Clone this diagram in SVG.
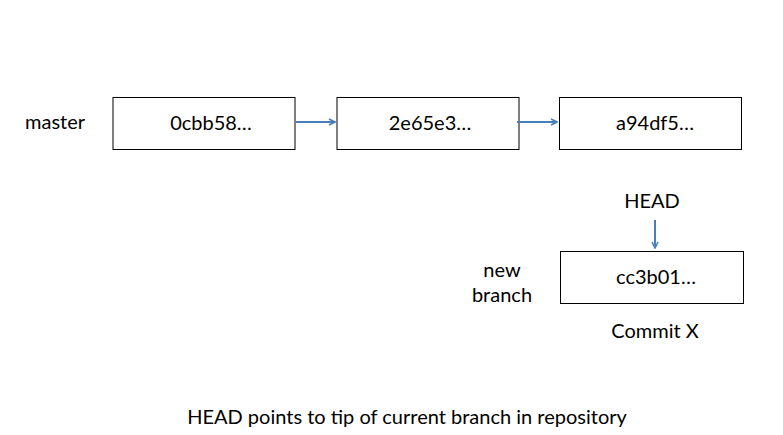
<svg xmlns="http://www.w3.org/2000/svg" width="783" height="435" viewBox="0 0 783 435">
<defs>
<marker id="ah" markerWidth="8" markerHeight="8" refX="7" refY="4" orient="auto" markerUnits="userSpaceOnUse">
<path d="M1,1 L7,4 L1,7" fill="none" stroke="#4a7ebb" stroke-width="1.6"/>
</marker>
<style>
.box{fill:#fff;stroke:#000;stroke-width:1}
.t{font-family:Lato,"Open Sans","Liberation Sans",sans-serif;font-size:20px;fill:#000}
.c{stroke:#4a7ebb;stroke-width:2;fill:none;marker-end:url(#ah)}
</style>
</defs>
<rect width="783" height="435" fill="#fff"/>
<g id="label-master"><text class="t" x="25" y="129">master</text></g>
<g id="n1"><rect class="box" x="113" y="97.5" width="182" height="52"/><text class="t" x="211" y="130" text-anchor="middle">0cbb58…</text></g>
<g id="n2"><rect class="box" x="337" y="97.5" width="182" height="52"/><text class="t" x="430" y="130" text-anchor="middle">2e65e3…</text></g>
<g id="n3"><rect class="box" x="559.5" y="97.5" width="182" height="52"/><text class="t" x="655" y="130" text-anchor="middle">a94df5…</text></g>
<g id="n4"><rect class="box" x="560.5" y="251.5" width="183" height="52"/><text class="t" x="656" y="284" text-anchor="middle">cc3b01…</text></g>
<g id="label-head"><text class="t" x="652" y="208" text-anchor="middle">HEAD</text></g>
<g id="label-branch"><text class="t" x="502" y="277" text-anchor="middle">new</text><text class="t" x="502" y="302" text-anchor="middle">branch</text></g>
<g id="label-commit"><text class="t" x="655" y="338" text-anchor="middle">Commit X</text></g>
<g id="caption"><text class="t" x="407" y="424" text-anchor="middle">HEAD points to tip of current branch in repository</text></g>
<g id="connectors">
<line class="c" x1="296" y1="122" x2="335" y2="122"/>
<line class="c" x1="517" y1="122" x2="557" y2="122"/>
<line class="c" x1="655" y1="220" x2="655" y2="248"/>
</g>
</svg>
